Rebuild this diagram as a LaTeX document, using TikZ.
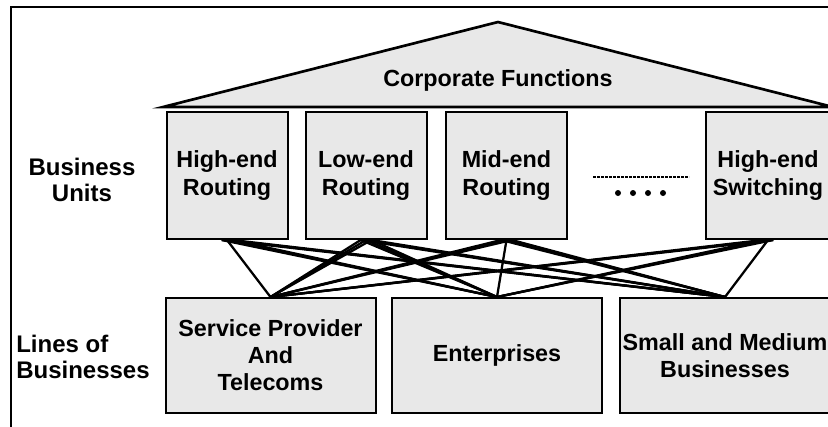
\documentclass[tikz,border=0pt]{standalone}
\usepackage{fontspec}
\setmainfont{Liberation Sans}
\usetikzlibrary{positioning}

\begin{document}
\begin{tikzpicture}[x=0.75pt,y=0.75pt,yscale=-1,xscale=1,
  unitbox/.style={draw, line width=1.5pt, fill={rgb, 255:red, 232; green, 232; blue, 232 }, align=center, inner sep=0pt, minimum width=90.75pt, minimum height=95.25pt, font=\bfseries\fontsize{17.5}{21}\selectfont},
  linebox/.style={unitbox, minimum width=157.5pt, minimum height=86.25pt, font=\bfseries\fontsize{17.5}{20.25}\selectfont},
  sidelabel/.style={align=center, inner sep=0pt, font=\bfseries\fontsize{18}{19.5}\selectfont},
  link/.style={line width=1.7pt}]
\useasboundingbox (0,0) rectangle (828,426);

%Straight Lines: frame
\draw [line width=1.5pt]  (11,440) -- (11,7) -- (840,7) ;

%Shape: Triangle
\draw  [line width=2pt, line join=miter, fill={rgb, 255:red, 232; green, 232; blue, 232 }  ,fill opacity=1 ] (163,107) -- (498,22) -- (833,107) -- cycle ;
\node [font=\bfseries\fontsize{17.5}{21}\selectfont] (corp) at (498,80) {Corporate Functions};

%Shape: Rectangle (business units)
\node [unitbox] (hr) at (227,175.5) {High-end\\Routing};
\node [unitbox] (lr) at (366,175.5) {Low-end\\Routing};
\node [unitbox] (mr) at (506.5,175.5) {Mid-end\\Routing};
\node [unitbox, minimum width=93pt] (hs) at (768,175.5) {High-end\\Switching};

%Shape: Rectangle (lines of businesses)
\node [linebox] (sp) at (270.5,355.5) {Service Provider\\And\\Telecoms};
\node [linebox] (en) at (497,355.5) {Enterprises};
\node [linebox] (smb) at (725,355.5) {Small and Medium\\Businesses};

%Text
\node [sidelabel] (bu) at (82,180) {Business\\Units};
\node [sidelabel, align=left, anchor=west] (lob) at (16,357) {Lines of\\Businesses};

%Straight Lines: more units
\draw [line width=1.5pt, dash pattern=on 2.25pt off 0.75pt]  (593,177) -- (689,177) ;
\foreach \i in {0,...,3}
  \fill (618+15*\i,193) circle [radius=3] ;

%Straight Lines: links
\draw [link] (hr.south) -- (sp.north) ;
\draw [link] (mr.south) -- (en.north) ;
\draw [link] (hs.south) -- (smb.north) ;
\foreach \u/\l in {hr/en, hr/smb, lr/sp, lr/en, lr/smb, mr/sp, mr/smb, hs/sp, hs/en}
  \foreach \d in {-4,0,4}
    \draw [link] ([xshift=\d pt]\u.south) -- (\l.north) ;

\end{tikzpicture}
\end{document}
